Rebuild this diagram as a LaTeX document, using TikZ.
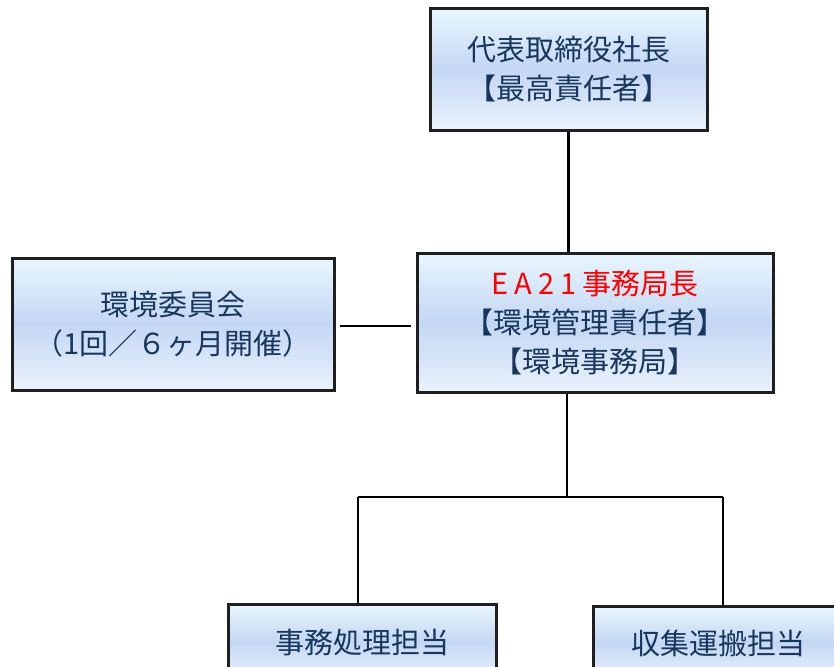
\documentclass[tikz,border=0pt]{standalone}
\usepackage{fontspec}
\newfontfamily\jp{Noto Sans CJK JP}
\usetikzlibrary{calc}
\definecolor{navy}{RGB}{23,55,94}
\definecolor{boxtop}{RGB}{232,246,254}
\definecolor{boxmid}{RGB}{196,215,243}
\definecolor{boxbot}{RGB}{234,242,252}
\tikzset{
  orgbox/.style={rectangle, draw=black!88, line width=3pt,
    top color=boxtop, bottom color=boxbot, middle color=boxmid,
    text=navy, font=\jp\fontsize{29}{39}\selectfont, align=center, inner sep=0pt},
  conn/.style={draw=black, line width=2.2pt}
}
\newcommand{\ls}{\hspace{6pt}}
\begin{document}
\begin{tikzpicture}[x=1pt,y=-1pt]
\clip (0,0) rectangle (834,666);
\fill[white] (0,0) rectangle (834,666);
\node[orgbox, minimum width=277pt, minimum height=121pt] (A) at (568.5,69.5) {代表取締役社長\\【最高責任者】};
\node[orgbox, minimum width=322pt, minimum height=132pt] (B) at (173,324) {環境委員会\\（1回／６ヶ月開催）};
\node[orgbox, minimum width=356pt, minimum height=139pt] (C) at (595,322.5) {\textcolor{red}{E\ls A\ls 2\ls 1\ls 事務局長}\\【環境管理責任者】\\【環境事務局】};
\node[orgbox, minimum width=268pt, minimum height=76pt] (D) at (362,642) {事務処理担当};
\node[orgbox, minimum width=250pt, minimum height=74pt] (E) at (718,643) {収集運搬担当};
\coordinate (J) at (567,497);
\coordinate (L) at (358,497);
\coordinate (R) at (723,497);
\draw[conn] (A.south) -- (A.south |- C.north);
\draw[conn] ($(B.east)+(4,2)$) -- ($(C.west |- B.east)+(-5,2)$);
\draw[conn] (J |- C.south) -- (J);
\draw[conn] (L) -- (R);
\draw[conn] (L) -- (L |- D.north);
\draw[conn] (R) -- (R |- E.north);
\end{tikzpicture}
\end{document}
